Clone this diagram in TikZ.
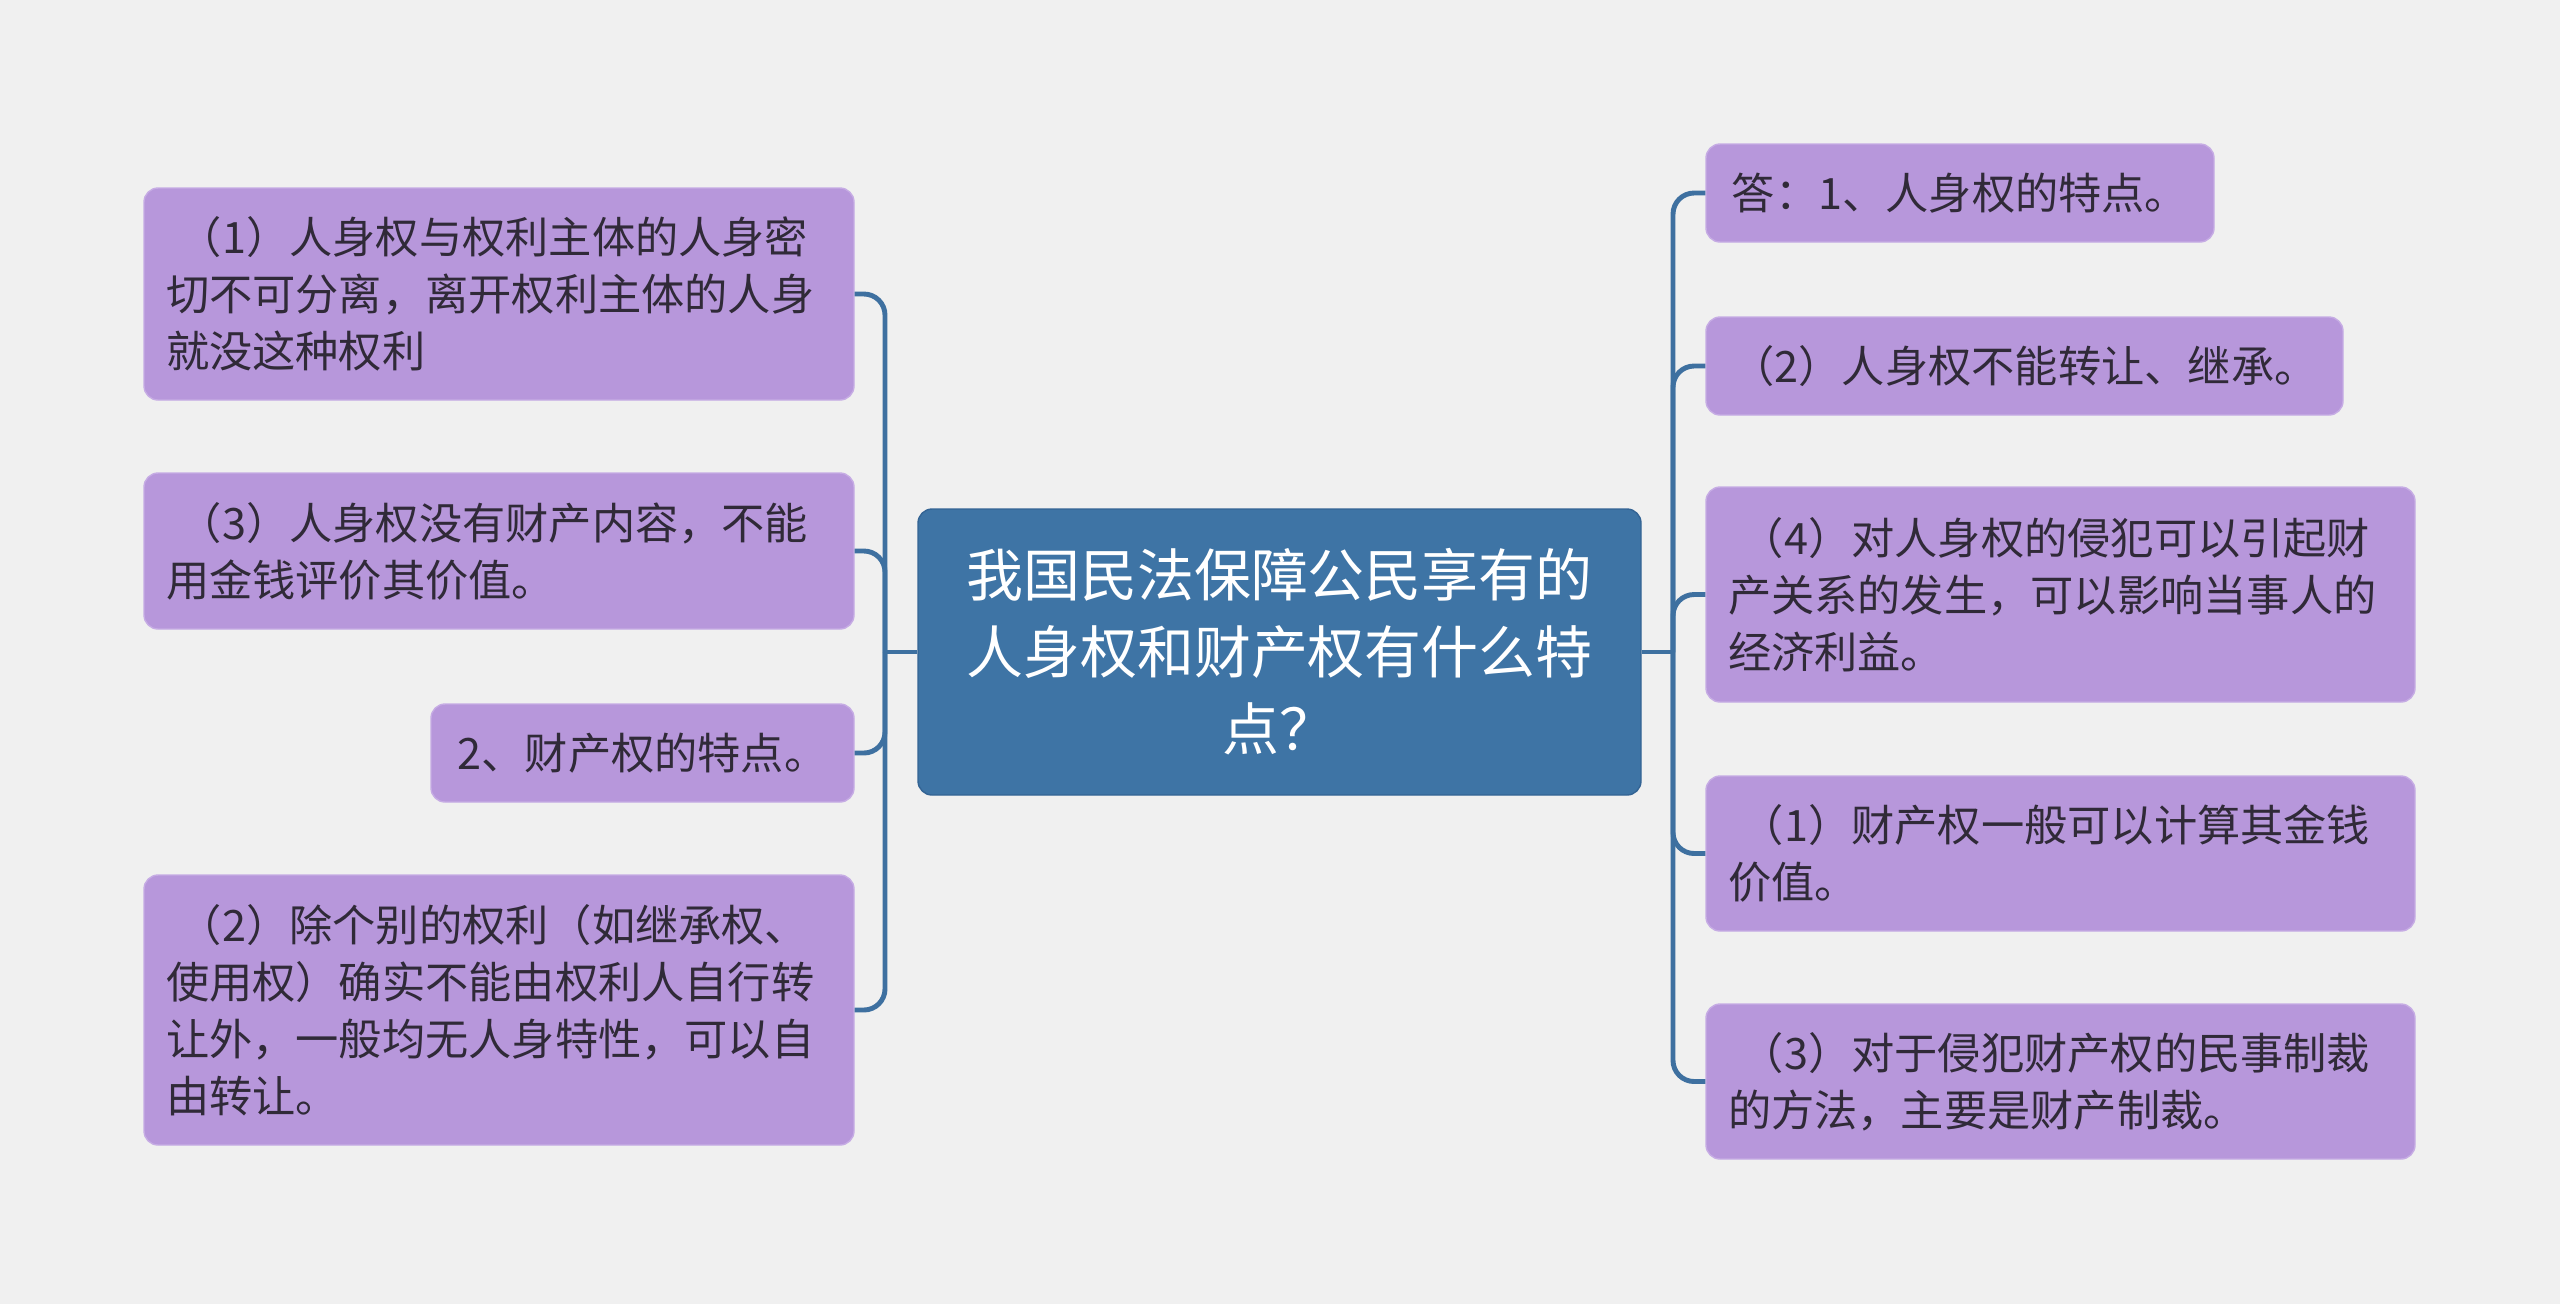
\documentclass[tikz,border=0pt]{standalone}
\usepackage{fontspec}
\setmainfont{Noto Sans CJK SC}
\usepackage{xcolor}
\usetikzlibrary{positioning,calc}
\XeTeXlinebreaklocale "zh"
\definecolor{bgcol}{RGB}{240,240,240}
\definecolor{leaffill}{RGB}{183,151,219}
\definecolor{leafedge}{RGB}{198,172,228}
\definecolor{leaftext}{RGB}{48,42,56}
\definecolor{rootfill}{RGB}{62,116,165}
\definecolor{rootedge}{RGB}{52,100,148}
\definecolor{conncol}{RGB}{62,112,160}
\newcommand{\ind}{\hspace*{0.3em}}

\begin{document}
\begin{tikzpicture}[
  leaf/.style={draw=leafedge, fill=leaffill, rounded corners=4pt, text=leaftext,
               font=\fontsize{12.3pt}{16.2pt}\selectfont, inner xsep=0.22cm, inner ysep=2pt},
  root/.style={draw=rootedge, fill=rootfill, rounded corners=4pt, text=white, align=center,
               font=\fontsize{16.2pt}{21.9pt}\selectfont, minimum width=7.23cm, minimum height=2.86cm,
               text width=6.6cm},
  conn/.style={draw=conncol, line width=1.4pt, rounded corners=6pt}]
\useasboundingbox (0,0) rectangle (25.6,-13.04);
\fill[bgcol] (0,0) rectangle (25.6,-13.04);
\node[root] (main) at (12.795,-6.52) {我国民法保障公民享有的\\人身权和财产权有什么特\\点？};
% left branch
\node[leaf, align=left, text width=6.66cm, minimum height=2.12cm] (l1) at (4.99,-2.94)
  {\ind（1）人身权与权利主体的人身密\\切不可分离，离开权利主体的人身\\就没这种权利};
\node[leaf, align=left, text width=6.66cm, minimum height=1.56cm] (l2) at (4.99,-5.51)
  {\ind（3）人身权没有财产内容，不能\\用金钱评价其价值。};
\node[leaf, align=center, text width=3.79cm, minimum height=0.98cm] (l3) at (6.425,-7.53)
  {2、财产权的特点。};
\node[leaf, align=left, text width=6.66cm, minimum height=2.70cm] (l4) at (4.99,-10.10)
  {\ind（2）除个别的权利（如继承权、\\使用权）确实不能由权利人自行转\\让外，一般均无人身特性，可以自\\由转让。};
% right branch
\node[leaf, align=center, text width=4.64cm, minimum height=0.98cm] (r1) at (19.60,-1.93)
  {答：1、人身权的特点。};
\node[leaf, align=center, text width=5.93cm, minimum height=0.98cm] (r2) at (20.245,-3.66)
  {（2）人身权不能转让、继承。};
\node[leaf, align=left, text width=6.65cm, minimum height=2.15cm] (r3) at (20.605,-5.945)
  {\ind（4）对人身权的侵犯可以引起财\\产关系的发生，可以影响当事人的\\经济利益。};
\node[leaf, align=left, text width=6.65cm, minimum height=1.55cm] (r4) at (20.605,-8.535)
  {\ind（1）财产权一般可以计算其金钱\\价值。};
\node[leaf, align=left, text width=6.65cm, minimum height=1.55cm] (r5) at (20.605,-10.815)
  {\ind（3）对于侵犯财产权的民事制裁\\的方法，主要是财产制裁。};
% connectors
\coordinate (jl) at (8.85,-6.52);
\coordinate (jr) at (16.73,-6.52);
\draw[conn] (main.west) -- (jl);
\draw[conn] (main.east) -- (jr);
\foreach \n in {l1,l2,l3,l4} \draw[conn] (jl) |- (\n.east);
\foreach \n in {r1,r2,r3,r4,r5} \draw[conn] (jr) |- (\n.west);
\end{tikzpicture}
\end{document}
